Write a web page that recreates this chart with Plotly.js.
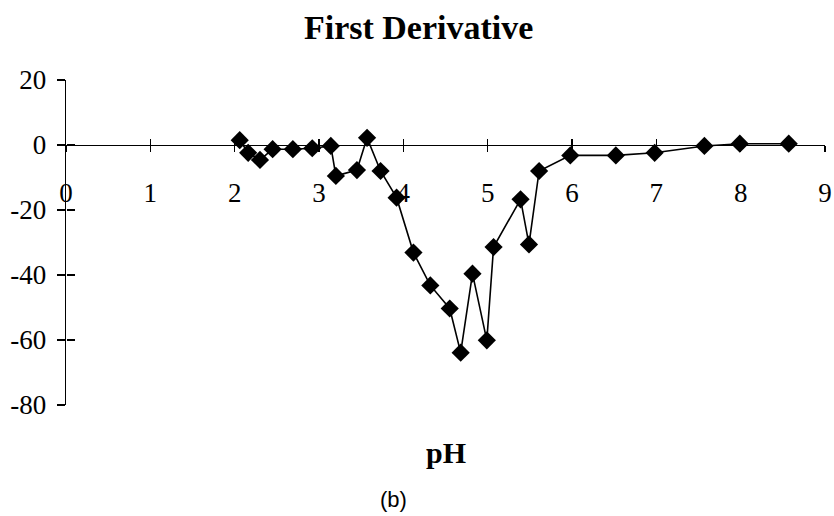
<!DOCTYPE html>
<html>
<head>
<meta charset="utf-8">
<script src="https://cdn.plot.ly/plotly-3.0.1.min.js"></script>
<style>html,body{margin:0;padding:0;background:#fff;}#chart{width:834px;height:516px;}</style>
</head>
<body>
<div id="chart"></div>
<script>
var pH = [2.06, 2.16, 2.30, 2.45, 2.69, 2.92, 3.14, 3.20, 3.45, 3.57, 3.73, 3.92, 4.12, 4.32, 4.55, 4.68, 4.82, 4.99, 5.07, 5.39, 5.49, 5.61, 5.98, 6.52, 6.98, 7.57, 7.99, 8.57];
var firstDerivative = [1.5, -2.4, -4.6, -1.3, -1.3, -1.0, -0.3, -9.5, -7.7, 2.2, -8.0, -16.2, -33.1, -43.2, -50.3, -63.9, -39.6, -60.1, -31.4, -16.7, -30.6, -8.0, -3.2, -3.2, -2.4, -0.3, 0.4, 0.4];
var xTicks = [0, 1, 2, 3, 4, 5, 6, 7, 8, 9];
var yTicks = [-80, -60, -40, -20, 0, 20];
var chartTitle = 'First Derivative';
var xTitle = 'pH';
var panelLabel = '(b)';

var trace = {
  x: pH, y: firstDerivative, type: 'scatter', mode: 'lines+markers',
  line: {color: '#000', width: 1.6},
  marker: {symbol: 'diamond', size: 14, color: '#000'},
  hoverinfo: 'skip', showlegend: false
};

var serif = 'Liberation Serif, Times New Roman, serif';
var layout = {
  width: 834, height: 516,
  margin: {l: 66, r: 9, t: 80, b: 111},
  paper_bgcolor: '#fff', plot_bgcolor: '#fff',
  title: {text: '<b>' + chartTitle + '</b>', font: {family: serif, size: 34, color: '#000'},
          x: 0.502, xref: 'container', y: 0.948, yref: 'container', yanchor: 'middle'},
  xaxis: {range: [0, 9], tickvals: xTicks, ticktext: xTicks.map(String),
          anchor: 'free', position: 0.8, showgrid: false, zeroline: false,
          showline: true, linecolor: '#000', linewidth: 1.3,
          ticks: 'outside', ticklen: 6, tickwidth: 1.3, tickcolor: '#000',
          ticklabelstandoff: 17,
          tickfont: {family: serif, size: 27, color: '#000'}},
  xaxis2: {range: [0, 9], tickvals: xTicks, showticklabels: false, overlaying: 'x',
           anchor: 'free', position: 0.8, showgrid: false, zeroline: false, showline: false,
           ticks: 'inside', ticklen: 6, tickwidth: 1.3, tickcolor: '#000'},
  yaxis: {range: [-80, 20], tickvals: yTicks, ticktext: yTicks.map(String),
          showgrid: false, zeroline: false, showline: true, linecolor: '#000', linewidth: 1.3,
          ticks: 'outside', ticklen: 8, tickwidth: 1.3, tickcolor: '#000',
          ticklabelstandoff: 5,
          tickfont: {family: serif, size: 27, color: '#000'}},
  yaxis2: {range: [-80, 20], tickvals: yTicks, showticklabels: false, overlaying: 'y',
           anchor: 'free', position: 0, side: 'left',
           showgrid: false, zeroline: false, showline: false,
           ticks: 'inside', ticklen: 8, tickwidth: 1.3, tickcolor: '#000'},
  annotations: [
    {text: '<b>' + xTitle + '</b>', xref: 'paper', yref: 'paper', x: 0.5, y: -0.145,
     xanchor: 'center', yanchor: 'middle', showarrow: false,
     font: {family: serif, size: 30, color: '#000'}},
    {text: panelLabel, xref: 'paper', yref: 'paper', x: 0.431, y: -0.292,
     xanchor: 'center', yanchor: 'middle', showarrow: false,
     font: {family: 'Liberation Sans, Arial, sans-serif', size: 22, color: '#000'}}
  ]
};

var axisHelper = {x: [0], y: [0], xaxis: 'x2', yaxis: 'y2', mode: 'markers',
  marker: {opacity: 0}, hoverinfo: 'skip', showlegend: false};

Plotly.newPlot('chart', [trace, axisHelper], layout, {staticPlot: true});
</script>
</body>
</html>
